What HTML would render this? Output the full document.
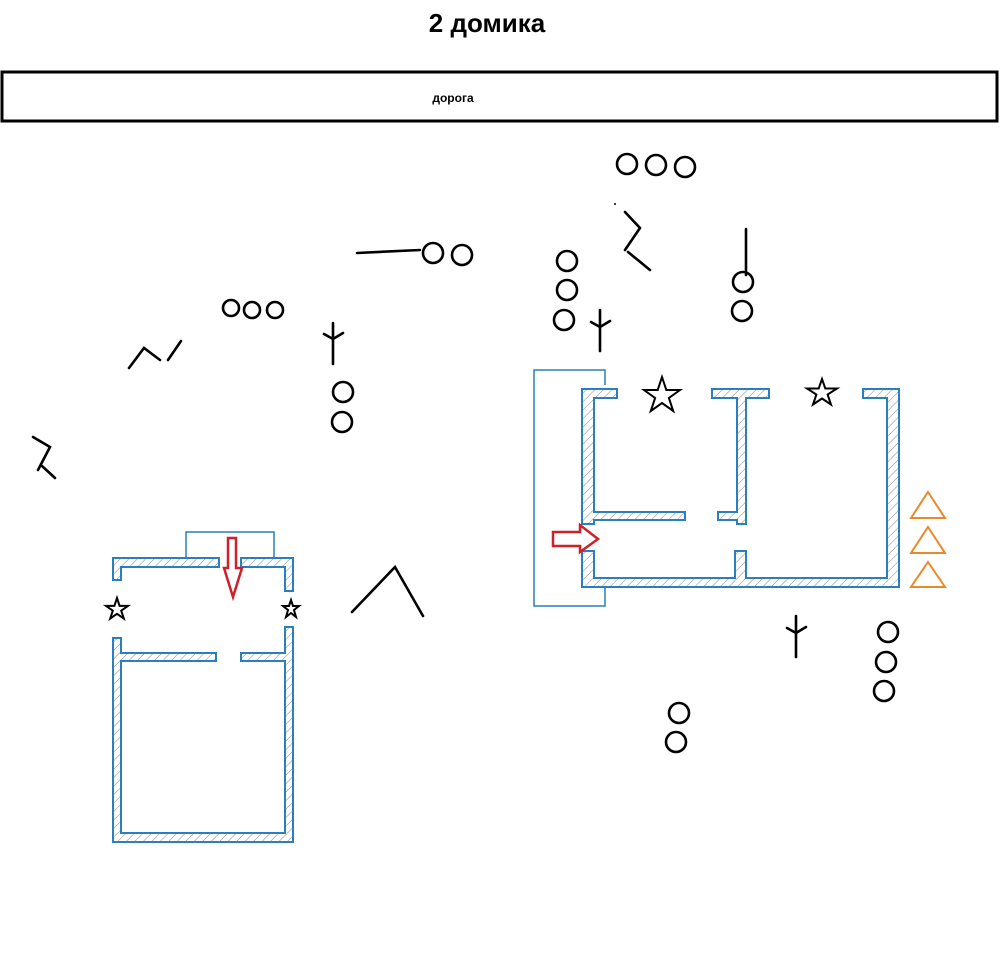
<!DOCTYPE html>
<html><head><meta charset="utf-8"><style>
html,body{margin:0;padding:0;background:#fff;width:1000px;height:959px;overflow:hidden}
svg{display:block}
</style></head><body>
<svg width="1000" height="959" viewBox="0 0 1000 959" xmlns="http://www.w3.org/2000/svg">
<defs>
<pattern id="h" width="6" height="6" patternUnits="userSpaceOnUse" patternTransform="rotate(45)">
<rect width="6" height="6" fill="#fff"/><line x1="0" y1="0" x2="0" y2="6" stroke="#888" stroke-width="1"/>
</pattern>
</defs>
<text x="487" y="32" text-anchor="middle" font-family="Liberation Sans, DejaVu Sans, sans-serif" font-weight="bold" font-size="26">2 домика</text>
<rect x="2" y="72" width="995" height="49" fill="none" stroke="#000" stroke-width="3"/>
<text x="453" y="102" text-anchor="middle" font-family="Liberation Sans, DejaVu Sans, sans-serif" font-weight="bold" font-size="12">дорога</text>

<g fill="url(#h)" stroke="#2a7fbf" stroke-width="2">
<polygon points="582,389 617,389 617,398 594,398 594,512 685,512 685,520 594,520 594,524 582,524"/>
<polygon points="712,389 769,389 769,398 746,398 746,524 737,524 737,520 718,520 718,512 737,512 737,398 712,398"/>
<polygon points="863,389 899,389 899,587 582,587 582,551 594,551 594,578 735,578 735,551 746,551 746,578 887,578 887,398 863,398"/>
<polygon points="113,558 219,558 219,567 121,567 121,580 113,580"/>
<polygon points="241,558 293,558 293,591 285,591 285,567 241,567"/>
<polygon points="113,638 121,638 121,653 216,653 216,661 121,661 121,833 285,833 285,661 241,661 241,653 285,653 285,627 293,627 293,842 113,842"/>
</g>
<g fill="none" stroke="#2a7fbf" stroke-width="1.5">
<polyline points="605,385 605,370 534,370 534,606 605,606 605,587"/>
<polyline points="186,558 186,532 274,532 274,558"/>
</g>
<g fill="#fff" stroke="#d0202a" stroke-width="2.5" stroke-linejoin="miter">
<polygon points="228,538 236,538 236,568 242,568 233,597 224,568 228,568"/>
<polygon points="553,532 580,532 580,525 598,539 580,552 580,546 553,546"/>
</g>
<g fill="none" stroke="#e88a2c" stroke-width="2">
<polygon points="928,492 945,518 911,518"/>
<polygon points="928,527 945,553 911,553"/>
<polygon points="928,562 945,587 911,587"/>
</g>
<g fill="none" stroke="#000" stroke-width="2" stroke-linejoin="miter">
<polygon points="117,598 119.6,605.9 128,605.9 121.2,610.7 123.8,618.6 117,613.8 110.2,618.6 112.8,610.7 106,605.9 114.4,605.9"/>
<polygon points="291,600 293,606 299,606 294,610 296,617 291,613 286,617 288,610 283,606 289,606"/>
<polygon points="662,377 666.3,390 680,390 668.9,398 673.2,411 662,403 650.8,411 655.1,398 644,390 657.7,390"/>
<polygon points="822,379 825.3,388.5 837,388.5 827.6,394.5 831,404.5 822,398.5 813,404.5 816.4,394.5 807,388.5 818.7,388.5"/>
</g>
<g fill="none" stroke="#000" stroke-width="2.6" stroke-linecap="round">
<circle cx="627" cy="164" r="10"/><circle cx="656" cy="165" r="10"/><circle cx="685" cy="167" r="10"/>
<circle cx="433" cy="253" r="10"/><circle cx="462" cy="255" r="10"/>
<circle cx="231" cy="308" r="8"/><circle cx="252" cy="310" r="8"/><circle cx="275" cy="310" r="8"/>
<circle cx="567" cy="261" r="10"/><circle cx="567" cy="290" r="10"/><circle cx="564" cy="320" r="10"/>
<circle cx="743" cy="282" r="10"/><circle cx="742" cy="311" r="10"/>
<circle cx="343" cy="392" r="10"/><circle cx="342" cy="422" r="10"/>
<circle cx="888" cy="632" r="10"/><circle cx="886" cy="662" r="10"/><circle cx="884" cy="691" r="10"/>
<circle cx="679" cy="713" r="10"/><circle cx="676" cy="742" r="10"/>
<line x1="357" y1="253" x2="420" y2="250"/>
<polyline points="129,368 144,348 160,360"/>
<line x1="168" y1="360" x2="181" y2="341"/>
<polyline points="625,212 640,228 625,250"/>
<line x1="628" y1="252" x2="650" y2="270"/>
<polyline points="33,437 50,447 38,470"/>
<line x1="42" y1="466" x2="55" y2="478"/>
<line x1="746" y1="229" x2="746" y2="275"/>
<line x1="333" y1="323" x2="333" y2="364"/><polyline points="324,334 333,339 343,333"/>
<line x1="600" y1="310" x2="600" y2="351"/><polyline points="591,322 600,327 610,321"/>
<line x1="796" y1="616" x2="796" y2="657"/><polyline points="787,628 796,633 806,627"/>
<polyline points="352,612 395,567 423,616"/>
</g>
<circle cx="615" cy="204" r="1" fill="#000"/>
</svg>
</body></html>
